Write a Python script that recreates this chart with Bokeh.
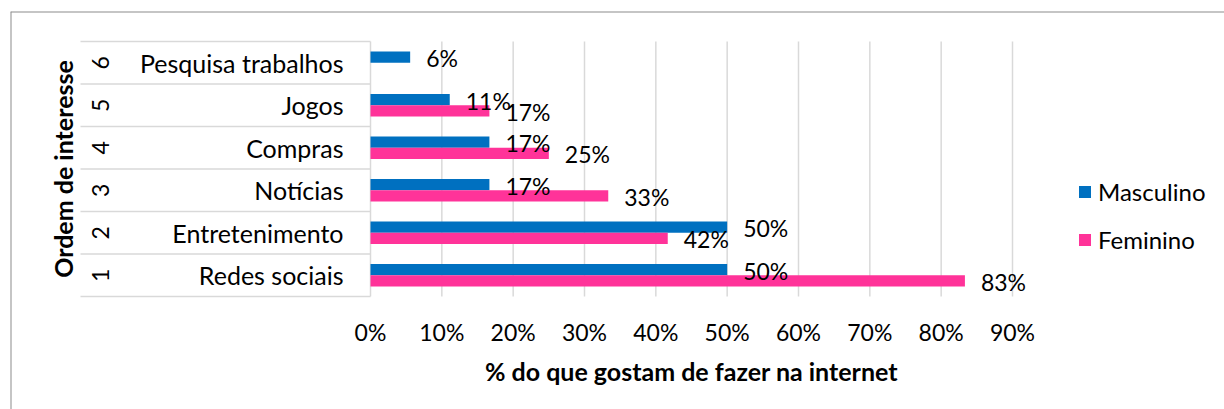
import math
from bokeh.plotting import figure
from bokeh.models import ColumnDataSource, Legend, LegendItem, Range1d
from bokeh.core.properties import value
from bokeh.embed import file_html
from bokeh.resources import INLINE

# ---- data ----
ranks = [1, 2, 3, 4, 5, 6]
categories = ["Redes sociais", "Entretenimento", "Notícias", "Compras", "Jogos", "Pesquisa trabalhos"]
masculino = [50.0, 50.0, 16.67, 16.67, 11.11, 5.56]
feminino = [83.33, 41.67, 33.33, 25.0, 16.67, None]
tick_values = [0, 10, 20, 30, 40, 50, 60, 70, 80, 90]
tick_labels = ["0%", "10%", "20%", "30%", "40%", "50%", "60%", "70%", "80%", "90%"]
x_title = "% do que gostam de fazer na internet"
y_title = "Ordem de interesse"

BLUE = "#0070C0"
PINK = "#FF3399"
FONT_NAME = "Lato"
FONT = value(FONT_NAME)
FS_NUM = "23px"
FS_TXT = "25px"

# px mapping: 0% at x=370, 90% at x=1012 ; frame from 10 to 1224
PX_PER = (1012 - 370) / 90.0
x_start = (10 - 370) / PX_PER
x_end = (1224 - 370) / PX_PER
# y: row 1 centre at 274.75, 42.5 px per row ; frame from 11 to 409
ROW = 42.5
y_end = 1 + (274.75 - 11) / ROW
y_start = 1 - (409 - 274.75) / ROW

def xp(px):
    return (px - 370) / PX_PER

def yp(py):
    return 1 + (274.75 - py) / ROW

p = figure(width=1224, height=409, output_backend="svg", toolbar_location=None,
           x_axis_location=None, y_axis_location=None,
           x_range=Range1d(x_start, x_end), y_range=Range1d(y_start, y_end))
p.min_border_left = 10
p.min_border_top = 11
p.min_border_right = 0
p.min_border_bottom = 0
p.outline_line_color = None
p.background_fill_color = None
p.border_fill_color = None
p.grid.visible = False

# chart border (top and left visible)
p.segment(x0=[x_start, x_start], y0=[y_end, y_end], x1=[x_end, x_start], y1=[y_end, y_start],
          line_color="#8c8c8c", line_width=2)

# vertical gridlines
p.segment(x0=tick_values, y0=[0.5] * len(tick_values), x1=tick_values, y1=[6.5] * len(tick_values),
          line_color="#d9d9d9", line_width=1.5)

# category table horizontal lines
row_bounds = [r - 0.5 for r in ranks] + [6.5]
p.segment(x0=[xp(80)] * len(row_bounds), y0=row_bounds, x1=[0] * len(row_bounds), y1=row_bounds,
          line_color="#d9d9d9", line_width=1.5)

DODGE = 0.135
H = 0.265

src_m = ColumnDataSource(dict(y=[r + DODGE for r in ranks], v=masculino,
                              lab=[f"{round(v)}%" for v in masculino]))
f_r = [r for r, v in zip(ranks, feminino) if v is not None]
f_v = [v for v in feminino if v is not None]
src_f = ColumnDataSource(dict(y=[r - DODGE for r in f_r], v=f_v,
                              lab=[f"{round(v)}%" for v in f_v]))

r_m = p.hbar(y="y", right="v", left=0, height=H, source=src_m, fill_color=BLUE, line_color=None)
r_f = p.hbar(y="y", right="v", left=0, height=H, source=src_f, fill_color=PINK, line_color=None)

for src in (src_m, src_f):
    p.text(x="v", y="y", text="lab", source=src, x_offset=16, y_offset=1,
           text_font=FONT, text_font_size=FS_NUM, text_color="black",
           text_align="left", text_baseline="middle")

# category labels
p.text(x=[xp(343)] * len(ranks), y=ranks, text=categories, text_font=FONT, text_font_size=FS_TXT,
       text_color="black", text_align="right", text_baseline="middle")
# rank numbers (rotated)
p.text(x=[xp(100)] * len(ranks), y=ranks, text=[str(r) for r in ranks], angle=math.pi / 2,
       text_font=FONT, text_font_size=FS_NUM, text_color="black",
       text_align="center", text_baseline="middle")
# y title
p.text(x=[xp(62)], y=[3.5], text=[y_title], angle=math.pi / 2, text_font=FONT, text_font_size=FS_TXT,
       text_font_style="bold", text_color="black", text_align="center", text_baseline="middle")
# x tick labels
p.text(x=tick_values, y=[yp(331)] * len(tick_values), text=tick_labels, text_font=FONT,
       text_font_size=FS_NUM, text_color="black", text_align="center", text_baseline="middle")
# x title
p.text(x=[45], y=[yp(370)], text=[x_title], text_font=FONT, text_font_size=FS_TXT,
       text_font_style="bold", text_color="black", text_align="center", text_baseline="middle")

legend = Legend(items=[LegendItem(label="Masculino", renderers=[r_m]),
                       LegendItem(label="Feminino", renderers=[r_f])],
                location=(1067, 155), glyph_width=15, glyph_height=15, label_height=24,
                label_standoff=6, spacing=19, padding=0, margin=0,
                border_line_color=None, background_fill_alpha=0,
                label_text_font=FONT_NAME, label_text_font_size="24px", label_text_color="black")
p.add_layout(legend)

open("out.html", "w").write(file_html(p, INLINE))
